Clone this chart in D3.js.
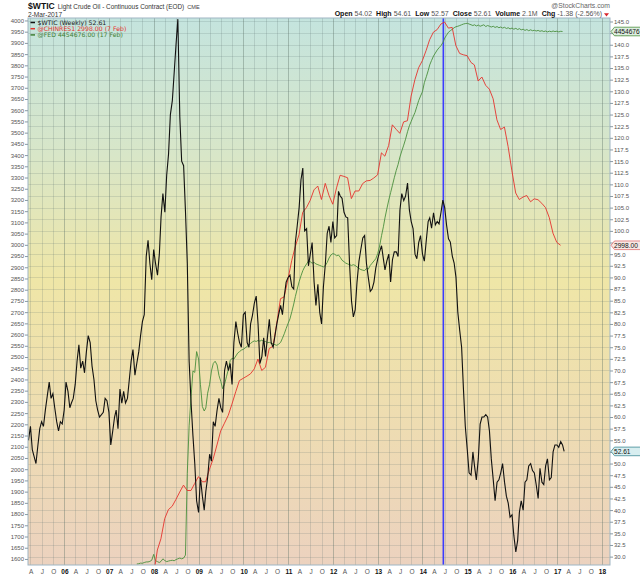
<!DOCTYPE html>
<html>
<head>
<meta charset="utf-8">
<script src="https://cdn.jsdelivr.net/npm/d3@7"></script>
<style>
  html, body { margin: 0; padding: 0; background: #fff; }
  svg { display: block; font-family: "Liberation Sans", Arial, sans-serif; }
</style>
</head>
<body>
<svg id="chart" width="640" height="576"></svg>
<script>
/* $WTIC weekly vs China FX reserves vs Fed balance sheet — StockCharts style */

// $WTIC, one reading every half month (1st / 16th), starting 16 Mar 2005
const wticStart = [2005, 2, 1]; // year, month index, half (0 = 1st, 1 = 16th)
const wticValues = [
  55.0, 58.0, 53.0, 51.5, 50.0, 54.0, 57.5, 59.0, 58.0, 61.6, 64.5, 67.5, 64.0, 65.0, 62.0, 59.0, 57.0, 59.0, 58.5,
  61.5, 67.5, 65.5, 62.0, 63.0, 64.0, 67.0, 72.0, 75.5, 70.5, 72.0, 69.5, 74.0, 77.5, 76.0, 71.0, 68.0, 63.5, 61.5, 60.0, 60.5, 61.0, 64.0, 63.5,
  61.0, 54.0, 57.0, 60.0, 61.5, 57.5, 66.0, 63.0, 65.5, 63.0, 64.0, 68.0, 72.0, 74.5, 69.0, 71.5, 74.0, 77.5, 80.5, 82.0, 94.5, 98.0, 93.0, 89.5,
  96.0, 93.0, 90.5, 95.0, 103.0, 108.0, 104.0, 112.0, 116.5, 125.0, 128.0, 134.0, 140.0, 145.5, 124.5, 115.0, 114.0, 104.3, 93.0, 72.0, 63.0, 56.0, 50.0, 42.0,
  39.5, 47.0, 43.0, 40.0, 44.0, 47.0, 52.0, 50.5, 59.0, 58.0, 61.5, 64.0, 62.0, 61.0, 70.0, 72.0, 70.0, 71.5, 67.0, 76.0, 80.5, 78.0, 76.0, 75.0,
  82.0, 82.5, 76.0, 75.0, 80.0, 81.8, 84.5, 86.0, 80.0, 71.5, 73.0, 77.0, 73.0, 77.0, 81.0, 76.0, 75.0, 77.5, 80.0, 82.0, 84.0, 82.0, 86.0, 89.0,
  90.0, 90.5, 88.0, 87.5, 97.5, 101.0, 105.0, 111.0, 113.5, 100.0, 100.5, 92.5, 95.0, 97.5, 89.0, 84.0, 88.5, 82.5, 80.0, 88.0, 93.0, 99.5, 101.0, 97.5,
  102.0, 98.5, 99.0, 108.5, 107.5, 107.0, 104.0, 103.0, 102.8, 93.0, 85.0, 81.5, 83.0, 89.0, 93.5, 96.0, 98.5, 99.0, 93.0, 90.0, 87.0, 87.5, 89.0, 92.0,
  94.0, 95.5, 96.8, 94.0, 91.6, 93.5, 95.0, 89.0, 93.8, 95.5, 95.5, 94.5, 104.5, 108.0, 106.5, 107.5, 110.3, 104.5, 102.0, 100.5, 95.0, 94.0, 97.5, 99.0,
  95.0, 93.5, 98.0, 102.0, 102.8, 100.6, 103.9, 101.3, 102.0, 101.5, 104.0, 106.6, 105.0, 101.3, 98.3, 97.6, 94.6, 93.1, 90.0, 82.5, 78.5, 75.0, 66.0, 58.0,
  53.0, 48.0, 47.5, 52.5, 49.5, 46.5, 51.0, 58.5, 60.0, 60.0, 60.5, 60.0, 57.0, 51.0, 46.5, 42.0, 46.0, 46.5, 48.0, 50.0, 46.0, 43.0, 41.5, 38.5,
  39.0, 34.5, 31.0, 33.5, 39.5, 42.0, 40.0, 46.0, 46.5, 49.5, 50.0, 48.5, 48.0, 45.5, 42.5, 49.0, 46.0, 45.5, 49.5, 51.0, 46.5, 47.0, 52.5, 54.0,
  54.0, 53.5, 54.7, 54.0, 52.61
];

// @CHINRES1, monthly (plotted at month end), starting Dec 2007, $bn
const resStart = [2007, 11];
const resValues = [
  1528,
  1640, 1690, 1780, 1820, 1835, 1865, 1898, 1929, 1905, 1905, 1936, 1967,
  1944, 1944, 2000, 2046, 2108, 2170, 2205, 2240, 2290, 2345, 2395, 2405,
  2415, 2425, 2447, 2491, 2440, 2454, 2538, 2548, 2648, 2760, 2768, 2847,
  2931, 2991, 3045, 3145, 3166, 3198, 3245, 3262, 3202, 3274, 3221, 3181,
  3254, 3310, 3305, 3299, 3206, 3240, 3240, 3273, 3285, 3287, 3298, 3312,
  3410, 3395, 3443, 3535, 3515, 3497, 3548, 3553, 3663, 3736, 3789, 3821,
  3867, 3914, 3948, 3959, 3984, 3993, 3966, 3969, 3888, 3853, 3847, 3843,
  3813, 3802, 3730, 3748, 3711, 3694, 3651, 3557, 3514, 3525, 3438, 3330,
  3231, 3202, 3213, 3220, 3192, 3205, 3201, 3185, 3166, 3121, 3052, 3011,
  2998
];

// @FED total assets, half-monthly from 16 Aug 2007, $bn (no axis of its own)
const fedStart = [2007, 7, 1];
const fedValues = [
  870, 872, 876, 875, 880, 884, 884, 888, 895,
  935, 892, 886, 880, 888, 905, 893, 886, 890, 893, 895, 892, 900, 905, 910, 905, 910, 930, 1480, 1800, 2000, 2170, 2160, 2300,
  2250, 2080, 1930, 1900, 1920, 2020, 2080, 2170, 2220, 2235, 2210, 2140, 2100, 2050, 2080, 2130, 2180, 2240, 2255, 2250, 2270, 2290, 2300, 2310,
  2315, 2325, 2335, 2345, 2355, 2365, 2372, 2368, 2375, 2370, 2378, 2365, 2368, 2360, 2362, 2356, 2352, 2346, 2342, 2350, 2362, 2390, 2420, 2455,
  2490, 2520, 2570, 2620, 2670, 2720, 2770, 2810, 2845, 2870, 2890, 2910, 2905, 2895, 2900, 2890, 2885, 2880, 2875, 2870, 2880, 2900, 2930, 2950,
  2960, 2955, 2945, 2950, 2935, 2915, 2905, 2895, 2890, 2885, 2880, 2885, 2880, 2870, 2860, 2852, 2848, 2845, 2860, 2855, 2880, 2895, 2910, 2925,
  2960, 3010, 3080, 3140, 3200, 3260, 3320, 3370, 3420, 3470, 3520, 3560, 3610, 3650, 3690, 3730, 3780, 3820, 3850, 3880, 3910, 3950, 3990, 4020,
  4050, 4110, 4150, 4190, 4230, 4260, 4290, 4310, 4330, 4345, 4360, 4380, 4410, 4430, 4450, 4460, 4470, 4480, 4487, 4490, 4495, 4500, 4505, 4508,
  4510, 4505, 4500, 4495, 4500, 4492, 4498, 4490, 4495, 4500, 4488, 4495, 4490, 4485, 4490, 4482, 4488, 4480, 4485, 4478, 4483, 4475, 4480, 4472,
  4478, 4470, 4476, 4468, 4474, 4466, 4470, 4462, 4468, 4460, 4466, 4460, 4463, 4458, 4462, 4456, 4460, 4454, 4458, 4452, 4457, 4453, 4458, 4454,
  4457, 4452, 4456, 4454.676
];

const resTicks = d3.range(1600, 4001, 50);
const oilTicks = d3.range(30, 145.01, 2.5);
const markerDate = new Date(2014, 5, 20);   // blue vertical marker
const monthLetter = { 3: 'A', 6: 'J', 9: 'O' };

const legendItems = [
  { text: '$WTIC (Weekly) 52.61', color: '#111', textColor: '#222' },
  { text: '@CHINRES1 2998.00 (7 Feb)', color: '#e5322d', textColor: '#e5322d' },
  { text: '@FED 4454676.00 (17 Feb)', color: '#3f7f35', textColor: '#3f7f35' },
];
const quote = [['Open', '54.02'], ['High', '54.61'], ['Low', '52.57'], ['Close', '52.61'], ['Volume', '2.1M'], ['Chg', '-1.38 (-2.56%)']];

// ---------------------------------------------------------------------
const W = 640, H = 576;
const M = { left: 28, top: 18, right: 30, bottom: 11 };
const pw = W - M.left - M.right;
const ph = H - M.top - M.bottom;

function semiDates(start, n) {
  return d3.range(n).map(i => {
    const k = start[1] * 2 + start[2] + i;
    return new Date(start[0] + Math.floor(k / 24), Math.floor(k / 2) % 12, k % 2 ? 16 : 1);
  });
}
function monthEnds(start, n) {
  return d3.range(n).map(i => new Date(start[0], start[1] + i + 1, 0));
}

const wtic = semiDates(wticStart, wticValues.length).map((d, i) => ({ d, v: wticValues[i] }));
const res = monthEnds(resStart, resValues.length).map((d, i) => ({ d, v: resValues[i] }));
const fed = semiDates(fedStart, fedValues.length).map((d, i) => ({ d, v: fedValues[i] }));

// Scales (axis extents as drawn by the original chart)
const x = d3.scaleTime().domain([new Date(2005, 2, 12), new Date(2018, 2, 10)]).range([0, pw]);
const yRes = d3.scaleLinear().domain([1573, 4011]).range([ph, 0]);
const yOil = d3.scaleLinear().domain([28.2, 145.75]).range([ph, 0]);
const yFed = d3.scaleLinear().domain([863.3, 4545.6]).range([ph, 0]);

const svg = d3.select('#chart');
const defs = svg.append('defs');

const bg = defs.append('linearGradient').attr('id', 'bg').attr('x1', 0).attr('y1', 0).attr('x2', 0).attr('y2', 1);
[[0, '#c4e4de'], [0.25, '#d8e6c8'], [0.48, '#efe6a7'], [0.75, '#eedcb2'], [1, '#ecd2bf']].forEach(([o, c]) => {
  bg.append('stop').attr('offset', o).attr('stop-color', c);
});
defs.append('clipPath').attr('id', 'clip').append('rect').attr('width', pw).attr('height', ph);

const g = svg.append('g').attr('transform', `translate(${M.left},${M.top})`);
g.append('rect').attr('width', pw).attr('height', ph).attr('fill', 'url(#bg)');

// Grid
const quarters = x.ticks(d3.timeMonth.every(3));
g.append('g').selectAll('line').data(oilTicks).join('line')
  .attr('x1', 0).attr('x2', pw)
  .attr('y1', d => Math.round(yOil(d)) + 0.5).attr('y2', d => Math.round(yOil(d)) + 0.5)
  .attr('stroke', 'rgba(90,110,110,0.18)');
g.append('g').selectAll('line').data(quarters).join('line')
  .attr('x1', d => Math.round(x(d)) + 0.5).attr('x2', d => Math.round(x(d)) + 0.5)
  .attr('y1', 0).attr('y2', ph)
  .attr('stroke', d => d.getMonth() === 0 ? 'rgba(90,110,100,0.38)' : 'rgba(90,110,110,0.2)');

// Series
const plot = g.append('g').attr('clip-path', 'url(#clip)');
plot.append('line')
  .attr('x1', x(markerDate)).attr('x2', x(markerDate))
  .attr('y1', 0).attr('y2', ph)
  .attr('stroke', '#3b3bff').attr('stroke-width', 1.6);

plot.append('path').datum(fed)
  .attr('fill', 'none').attr('stroke', '#4a8f3c').attr('stroke-width', 0.9)
  .attr('d', d3.line().x(d => x(d.d)).y(d => yFed(d.v)));
plot.append('path').datum(res)
  .attr('fill', 'none').attr('stroke', '#e5322d').attr('stroke-width', 0.9)
  .attr('d', d3.line().x(d => x(d.d)).y(d => yRes(d.v)));
plot.append('path').datum(wtic)
  .attr('fill', 'none').attr('stroke', '#111').attr('stroke-width', 1.1)
  .attr('d', d3.line().x(d => x(d.d)).y(d => yOil(d.v)));

g.append('rect').attr('width', pw).attr('height', ph)
  .attr('fill', 'none').attr('stroke', '#9fb6c4').attr('stroke-width', 1);

// Axes
const leftAxis = g.append('g')
  .call(d3.axisLeft(yRes).tickValues(resTicks).tickSize(3).tickPadding(1).tickFormat(d3.format('d')));
const rightAxis = g.append('g').attr('transform', `translate(${pw},0)`)
  .call(d3.axisRight(yOil).tickValues(oilTicks).tickSize(3).tickPadding(1).tickFormat(d3.format('.1f')));
[leftAxis, rightAxis].forEach(a => {
  a.select('.domain').remove();
  a.selectAll('line').attr('stroke', '#8a9aa4');
  a.selectAll('text').attr('fill', '#555').style('font-size', '6px')
    .style('font-family', '"Liberation Sans", Arial, sans-serif');
});

const xLabels = g.append('g').attr('transform', `translate(0,${ph})`);
xLabels.selectAll('text').data(quarters).join('text')
  .attr('x', d => x(d) + 0.8).attr('y', 9)
  .attr('text-anchor', 'middle')
  .style('font-size', '6.5px')
  .attr('font-weight', d => d.getMonth() === 0 ? 'bold' : 'normal')
  .attr('fill', d => d.getMonth() === 0 ? '#111' : '#555')
  .text(d => d.getMonth() === 0 ? d3.timeFormat('%y')(d) : monthLetter[d.getMonth()]);

// Legend
const legend = g.append('g').attr('transform', 'translate(2,6.5)');
legendItems.forEach((it, i) => {
  const row = legend.append('g').attr('transform', `translate(0,${i * 6.2})`);
  row.append('line').attr('x1', 0.5).attr('x2', 5).attr('y1', -2).attr('y2', -2)
    .attr('stroke', it.color).attr('stroke-width', 1.5);
  row.append('text').attr('x', 7.5).attr('y', 0)
    .style('font-family', '"DejaVu Sans", Verdana, sans-serif').style('font-size', '6.2px')
    .attr('fill', it.textColor).text(it.text);
});

// Last-value tags on the right edge
const tags = [
  { y: yFed(fedValues[fedValues.length - 1]), text: '4454676.00', stroke: '#4a8f3c', fill: '#ddeee0' },
  { y: yRes(resValues[resValues.length - 1]), text: '2998.00', stroke: '#e07070', fill: '#f8e8e4' },
  { y: yOil(wticValues[wticValues.length - 1]), text: '52.61', stroke: '#3e8a94', fill: '#d8eef0' },
];
tags.forEach(t => {
  const tg = g.append('g').attr('transform', `translate(${pw},${t.y})`);
  tg.append('path').attr('d', 'M1,0 L4.5,-4.3 L40,-4.3 L40,4.3 L4.5,4.3 Z')
    .attr('fill', t.fill).attr('stroke', t.stroke).attr('stroke-width', 0.8);
  tg.append('text').attr('x', 4).attr('y', 2.3)
    .style('font-size', '6.6px').attr('fill', '#111').text(t.text);
});

// Header
const head = svg.append('text').attr('x', M.left).attr('y', 8.6);
head.append('tspan').attr('font-weight', 'bold').style('font-size', '8.6px').attr('fill', '#111').text('$WTIC');
head.append('tspan').attr('dx', 3).style('font-size', '6.4px').attr('fill', '#333')
  .text('Light Crude Oil - Continuous Contract (EOD)');
head.append('tspan').attr('dx', 3).style('font-size', '5.6px').attr('fill', '#444').text('CME');

svg.append('text').attr('x', M.left).attr('y', 16.6)
  .style('font-size', '6.6px').attr('fill', '#333').text('2-Mar-2017');

svg.append('text').attr('x', W - M.right).attr('y', 7.6).attr('text-anchor', 'end')
  .style('font-size', '6.8px').attr('fill', '#666').text('@StockCharts.com');

const q = svg.append('text').attr('x', 602).attr('y', 16.4).attr('text-anchor', 'end').style('font-size', '7px');
quote.forEach(([k, v], i) => {
  q.append('tspan').attr('dx', i ? 4 : 0).attr('font-weight', 'bold').attr('fill', '#111').text(k);
  q.append('tspan').attr('dx', 2).attr('fill', '#555').text(v);
});
svg.append('path').attr('d', 'M604,13.2 L609,13.2 L606.5,16.6 Z').attr('fill', '#d8242a');
</script>
</body>
</html>
